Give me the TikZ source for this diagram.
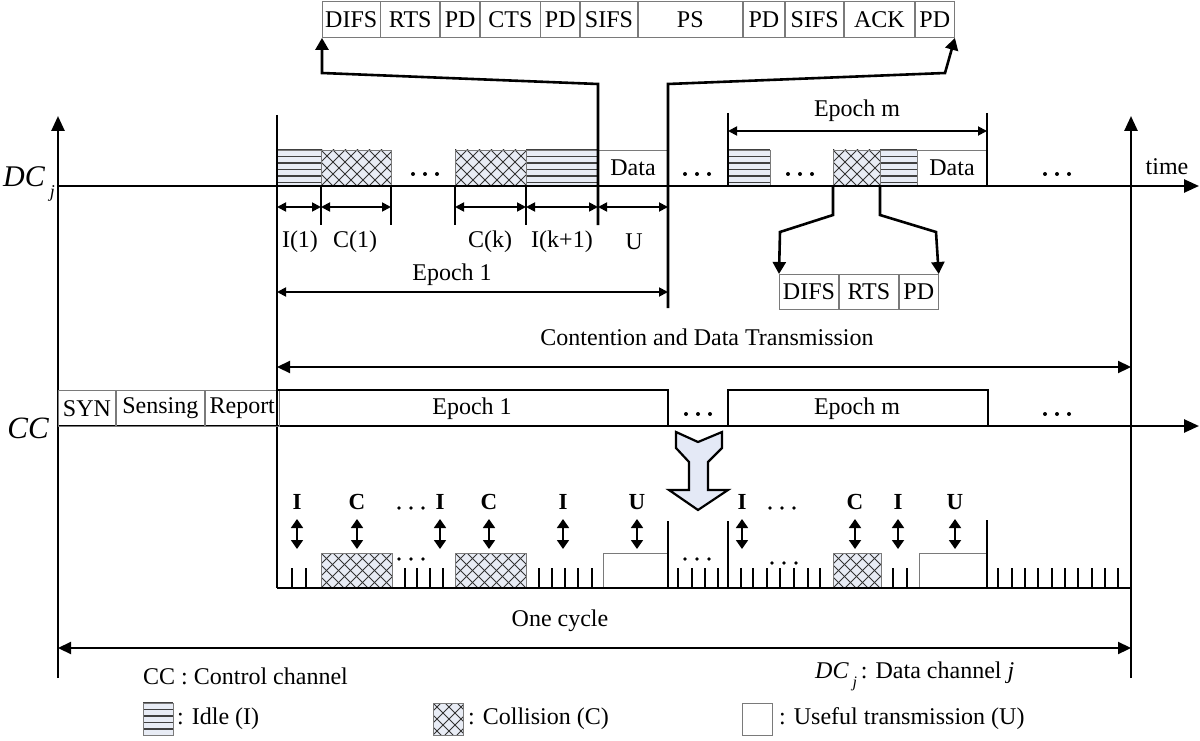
\documentclass[tikz,border=0pt]{standalone}
\usepackage{fontspec}
\setmainfont{Liberation Serif}
\usetikzlibrary{arrows.meta,calc}
\definecolor{patfill}{HTML}{E8ECF5}
\definecolor{celld}{HTML}{7A7A7A}
\definecolor{arrfill}{HTML}{E4E9F6}
\newcommand{\lbfont}{\fontsize{24}{26}\selectfont}
\tikzset{
  ax/.style={line width=2.6pt},
  axarrow/.style={line width=2.6pt,-{Triangle[length=15pt,width=13pt]}},
  bigdim/.style={line width=2.2pt,{Triangle[length=13pt,width=12pt]}-{Triangle[length=13pt,width=12pt]}},
  dimarr/.style={line width=1.8pt,{Triangle[length=9pt,width=9pt]}-{Triangle[length=9pt,width=9pt]}},
  updn/.style={line width=1.8pt,{Triangle[length=9pt,width=12pt]}-{Triangle[length=9pt,width=12pt]}},
  feed/.style={line width=2.6pt,-{Triangle[length=12pt,width=13pt]}},
  cell/.style={draw=celld,line width=0.9pt,inner sep=0,minimum height=36pt,anchor=north west,font=\lbfont},
  lbl/.style={inner sep=0,font=\lbfont},
  blbl/.style={inner sep=0,font=\fontsize{23}{25}\selectfont\bfseries},
  ticks/.style={line width=2pt},
  thinbox/.style={draw=celld,line width=0.9pt},
  idleline/.style={draw=black!75,line width=1.3pt},
  hatchline/.style={draw=black!80,line width=0.8pt},
  epochbox/.style={line width=2.6pt},
}
\newcommand{\idleblk}[4]{%
  \fill[patfill] (#1,#2) rectangle (#3,#4);
  \foreach \k in {0,...,5}{\draw[idleline] (#1,{#2+\k*6.5}) -- (#3,{#2+\k*6.5});}
  \draw[thinbox] (#1,#2) rectangle (#3,#4);}
\newcommand{\collblk}[4]{%
  \fill[patfill] (#1,#2) rectangle (#3,#4);
  \begin{scope}
    \clip (#1,#2) rectangle (#3,#4);
    \foreach \d in {-48,-36,...,96}{%
      \draw[hatchline] ({#1+\d},#2) -- ++(48,48);
      \draw[hatchline] ({#1+\d},#4) -- ++(48,-48);}
  \end{scope}
  \draw[thinbox] (#1,#2) rectangle (#3,#4);}
\newcommand{\tdots}[2]{\foreach \q in {-12,0,12}{\fill ({#1+\q},#2) circle (2pt);}}
\newcommand{\sdots}[2]{\foreach \q in {-12,0,12}{\fill ({#1+\q},#2) circle (1.8pt);}}
\begin{document}
\begin{tikzpicture}[x=1pt,y=-1pt]
\useasboundingbox (0,0) rectangle (1200,741);

% ---------------- top frame structure
\node[cell,minimum width=57.5pt] (c1) at (322,1) {DIFS};
\node[cell,minimum width=58.8pt] (c2) at (c1.north east) {RTS};
\node[cell,minimum width=39.3pt] (c3) at (c2.north east) {PD};
\node[cell,minimum width=59.2pt] (c4) at (c3.north east) {CTS};
\node[cell,minimum width=38.9pt] (c5) at (c4.north east) {PD};
\node[cell,minimum width=56.7pt] (c6) at (c5.north east) {SIFS};
\node[cell,minimum width=104pt] (c7) at (c6.north east) {PS};
\node[cell,minimum width=41.5pt] (c8) at (c7.north east) {PD};
\node[cell,minimum width=58.3pt] (c9) at (c8.north east) {SIFS};
\node[cell,minimum width=69.4pt] (c10) at (c9.north east) {ACK};
\node[cell,minimum width=39.4pt] (c11) at (c10.north east) {PD};

% ---------------- DC row blocks
\idleblk{277}{150}{321}{186}
\collblk{321}{150}{391}{186}
\collblk{455}{150}{526}{186}
\idleblk{526}{150}{598}{186}
\draw[thinbox] (598,150) rectangle (668,186);
\node[lbl] (data1) at (633,168) {Data};
\idleblk{728}{150}{770}{186}
\collblk{833}{150}{880}{186}
\idleblk{880}{150}{917}{186}
\draw[thinbox] (917,150) rectangle (987,186);
\node[lbl] (data2) at (952,168) {Data};
\tdots{425}{174}
\tdots{697}{174}
\tdots{800}{174}
\tdots{1057}{174}

% ---------------- axes
\coordinate (Lbot) at (58,678);
\coordinate (Ltop) at (58,116);
\coordinate (Rbot) at (1131,678);
\coordinate (Rtop) at (1131,116);
\coordinate (DCs) at (58,186);
\coordinate (DCe) at (1199,186);
\coordinate (CCs) at (58,426);
\coordinate (CCe) at (1199,426);
\draw[axarrow] (Lbot) -- (Ltop);
\draw[axarrow] (Rbot) -- (Rtop);
\draw[axarrow] (DCs) -- (DCe);
\draw[axarrow] (CCs) -- (CCe);
\node[lbl] (time) at (1167,167) {time};
\node[inner sep=0,font=\fontsize{30}{30}\selectfont\itshape] (dclab) at (29,184) {DC\,\raisebox{-11pt}{\fontsize{18}{18}\selectfont j}};
\node[inner sep=0,font=\fontsize{31}{31}\selectfont\itshape] (cclab) at (28,428) {CC};

% ---------------- long verticals
\coordinate (v277t) at (277,115);
\coordinate (v277b) at (277,588);
\draw[ax] (v277t) -- (v277b);
\coordinate (f0) at (598,225);
\coordinate (f1) at (598,84);
\coordinate (f2) at (322,73);
\draw[feed] (f0) -- (f1) -- (f2) -- (c1.south west);
\coordinate (g0) at (668,308);
\coordinate (g1) at (668,84);
\coordinate (g2) at (945,73);
\draw[feed] (g0) -- (g1) -- (g2) -- (c11.south east);

% ticks below DC axis
\foreach \t in {321,391,455,526}{\draw[ax] (\t,186) -- (\t,225);}
% dimension arrows
\coordinate (d0) at (277,207);
\coordinate (d1) at (321,207);
\coordinate (d2) at (391,207);
\coordinate (d3) at (455,207);
\coordinate (d4) at (526,207);
\coordinate (d5) at (598,207);
\coordinate (d6) at (668,207);
\draw[dimarr] (d0) -- (d1);
\draw[dimarr] (d1) -- (d2);
\draw[dimarr] (d3) -- (d4);
\draw[dimarr] (d4) -- (d5);
\draw[dimarr] (d5) -- (d6);
\node[lbl] (li1) at (300,242) {I(1)};
\node[lbl] (lc1) at (355,242) {C(1)};
\node[lbl] (lck) at (490,242) {C(k)};
\node[lbl] (lik) at (562,242) {I(k+1)};
\node[lbl] (lu) at (634,242) {U};
\coordinate (e1a) at (277,292);
\coordinate (e1b) at (668,292);
\draw[dimarr] (e1a) -- (e1b);
\node[lbl] (ep1) at (452,275) {Epoch 1};

% epoch m on DC
\draw[ax] (728,113) -- (728,186);
\draw[ax] (987,113) -- (987,186);
\coordinate (ema) at (728,131);
\coordinate (emb) at (987,131);
\draw[dimarr] (ema) -- (emb);
\node[lbl] (epm) at (857,111) {Epoch m};

% collision zoom-in
\node[cell,minimum width=59pt,minimum height=35pt] (z1) at (779,274) {DIFS};
\node[cell,minimum width=59pt,minimum height=35pt] (z2) at (z1.north east) {RTS};
\node[cell,minimum width=39pt,minimum height=35pt] (z3) at (z2.north east) {PD};
\coordinate (h0) at (833,186);
\coordinate (h1) at (833,215);
\coordinate (h2) at (780,232);
\draw[feed] (h0) -- (h1) -- (h2) -- (z1.north west);
\coordinate (k0) at (880,186);
\coordinate (k1) at (880,215);
\coordinate (k2) at (936,232);
\draw[feed] (k0) -- (k1) -- (k2) -- (z3.north east);

% contention
\node[lbl] (cont) at (707,337) {Contention and Data Transmission};
\coordinate (ca) at (277,367);
\coordinate (cb) at (1131,367);
\draw[bigdim] (ca) -- (cb);

% ---------------- CC row
\node[cell,minimum width=57pt] (syn) at (58,390) {SYN};
\node[cell,minimum width=88pt] (sens) at (syn.north east) {Sensing};
\node[cell,minimum width=74pt] (rep) at (sens.north east) {Report};
\draw[epochbox] (277,426) -- (277,390) -- (668,390) -- (668,426);
\node[lbl] (cep1) at (472,409) {Epoch 1};
\draw[epochbox] (728,426) -- (728,390) -- (988,390) -- (988,426);
\node[lbl] (cepm) at (857,409) {Epoch m};
\tdots{698}{414}
\tdots{1057}{414}

% block arrow
\draw[line width=2.2pt,fill=arrfill,line join=miter]
  (676,432) -- (698,442) -- (722,432) -- (722,448) -- (708,462) -- (708,490)
  -- (728,490) -- (698,510) -- (669,490) -- (689,490) -- (689,462) -- (676,448) -- cycle;

% ---------------- slot detail
\collblk{321}{553}{392}{588}
\collblk{455}{553}{526}{588}
\collblk{833}{553}{881}{588}
\draw[thinbox] (603,553) rectangle (668,588);
\draw[thinbox] (919,553) rectangle (987,588);
\foreach \t in {292,306,405,417,430,443,539,552,565,578,592,678,692,705,718,741,753,767,780,794,808,820,893,907,998,1012,1025,1038,1052,1065,1078,1092,1105,1118}{\draw[ticks] (\t,568) -- (\t,588);}
\sdots{411}{559}
\sdots{697}{559}
\sdots{784}{563}
\draw[ax] (668,521) -- (668,588);
\draw[ax] (728,521) -- (728,588);
\draw[ax] (987,520) -- (987,588);
\draw[ax] (277,588) -- (1131,588);
% labels with up/down arrows
\node[blbl] (b1) at (297,502) {I};
\node[blbl] (b2) at (357,502) {C};
\node[blbl] (b3) at (440,502) {I};
\node[blbl] (b4) at (489,502) {C};
\node[blbl] (b5) at (563,502) {I};
\node[blbl] (b6) at (637,502) {U};
\node[blbl] (b7) at (742,502) {I};
\node[blbl] (b8) at (855,502) {C};
\node[blbl] (b9) at (898,502) {I};
\node[blbl] (b10) at (955,502) {U};
\sdots{411}{508}
\sdots{782}{508}
\foreach \n in {1,...,10}{\draw[updn] ($(b\n)+(0,17)$) -- ($(b\n)+(0,47)$);}

% one cycle
\node[lbl] (cyc) at (560,621) {One cycle};
\coordinate (oa) at (58,648);
\coordinate (ob) at (1131,648);
\draw[bigdim] (oa) -- (ob);

% ---------------- legend
\node[lbl,anchor=west] (lcc) at (143,676) {CC : Control channel};
\node[lbl,anchor=west] (ldc) at (815,676) {{\itshape DC\,\raisebox{-9pt}{\fontsize{16}{16}\selectfont j}}\,: Data channel {\itshape j}};
\idleblk{143}{703}{173}{735}
\node[lbl,anchor=west] (lidle) at (177,719) {: Idle (I)};
\collblk{433}{703}{463}{735}
\node[lbl,anchor=west] (lcol) at (468,719) {: Collision (C)};
\draw[thinbox] (742,703) rectangle (772,735);
\node[lbl,anchor=west] (luse) at (779,719) {: Useful transmission (U)};
\end{tikzpicture}
\end{document}
